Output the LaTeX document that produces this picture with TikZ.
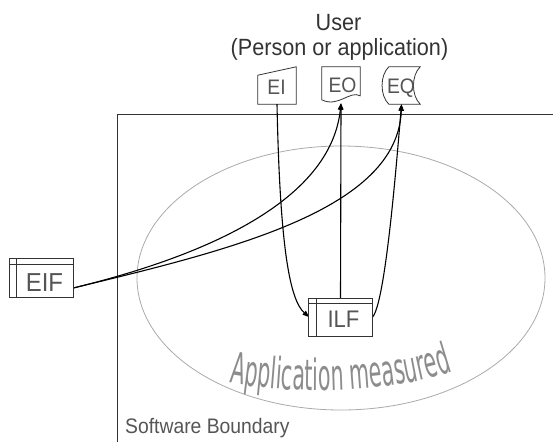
\documentclass[tikz,border=0pt]{standalone}
\usepackage{fontspec}
\setmainfont{Liberation Sans}[FakeStretch=0.92]
\newfontfamily\appfont[FakeStretch=0.48]{DejaVu Sans}
\usetikzlibrary{arrows.meta,calc,decorations.text,shapes.geometric}
\definecolor{txtgray}{HTML}{555555}
\definecolor{linegray}{HTML}{333333}
\definecolor{ellgray}{HTML}{AAAAAA}
\definecolor{appgray}{HTML}{8C8C8C}
\tikzset{
  boxshape/.style={draw=none,inner sep=0pt,minimum width=#1},
  outline/.style={draw=linegray,line width=0.8pt,fill=white},
  conn/.style={draw=black,line width=1.1pt,-{Triangle[length=6.5pt,width=5pt]}},
  lbl/.style={inner sep=0pt,anchor=base,text=txtgray,font=\fontsize{21}{23}\selectfont},
  ilflbl/.style={inner sep=0pt,anchor=base,text=txtgray,font=\fontsize{24}{26}\selectfont},
  eiflbl/.style={inner sep=0pt,anchor=base,text=txtgray,font=\fontsize{26}{28}\selectfont},
  toplbl/.style={inner sep=0pt,anchor=base,text=linegray,font=\fontsize{23.5}{25}\selectfont},
}
\begin{document}
\begin{tikzpicture}[x=1pt,y=-1pt]
\useasboundingbox (0,0) rectangle (553,442);
% boundary
\coordinate (bR) at (553,114);
\coordinate (bC) at (117,114);
\coordinate (bB) at (117,442);
\draw[linegray,line width=0.8pt] (bR) -- (bC) -- (bB);
% ellipse
\node[draw=ellgray,line width=0.8pt,ellipse,minimum width=408pt,minimum height=264pt,inner sep=0pt] (app) at (341,278) {};
% application measured text
\path[decorate,decoration={text along path,text align=center,text color=appgray,
  text={|\appfont\fontsize{43}{43}\selectfont|Application measured}}]
  (230,383) .. controls (290,394) and (385,394) .. (452,372);
% user text
\node[toplbl] (user) at (338.5,30) {User};
\node[toplbl] (user2) at (339.5,55) {(Person or application)};
% shapes
\node[boxshape=38pt,minimum height=37pt] (EI) at (277,85.5) {};
\draw[outline] ($(EI.south west)+(0,-29)$) -- (EI.north east) -- (EI.south east) -- (EI.south west) -- cycle;
\node[lbl] (EIt) at (276.5,94) {EI};
\node[boxshape=38pt,minimum height=36pt] (EO) at (341,85) {};
\draw[outline] (EO.north west) -- (EO.north east) -- ($(EO.north east)+(0,29)$)
  .. controls (350,90) and (338,108) .. ($(EO.north west)+(0,33)$) -- cycle;
\node[lbl] (EOt) at (342.5,92) {EO};
\node[boxshape=37pt,minimum height=37pt] (EQ) at (401.5,85.5) {};
\draw[outline] ($(EQ.north west)+(6,0)$) -- (EQ.north east)
  .. controls ($(EQ.east)+(-9,-10)$) and ($(EQ.east)+(-9,10)$) .. (EQ.south east)
  -- ($(EQ.south west)+(6,0)$)
  .. controls ($(EQ.west)+(-3,10)$) and ($(EQ.west)+(-3,-10)$) .. cycle;
\node[lbl] (EQt) at (401,93) {EQ};
% connectors
\draw[conn] (EI.south) .. controls (280,250) and (290,300) .. (309,317);
\node[boxshape=63pt,minimum height=38pt] (ILF) at (340.5,317.5) {};
\draw[conn] (ILF.north) -- (EO.south);
\draw[conn] (ILF.east) .. controls (385,305) and (396,170) .. (EQ.south);
\node[boxshape=63pt,minimum height=38pt] (EIF) at (41.5,278) {};
\draw[conn] ($(EIF.east)+(0,10)$) .. controls (180,262) and (330,210) .. (EO.south);
\draw[conn] ($(EIF.east)+(0,10)$) .. controls (230,250) and (398,210) .. (EQ.south);
% ILF box
\draw[outline] (ILF.north west) rectangle (ILF.south east);
\draw[linegray,line width=0.8pt] ($(ILF.north west)+(7.5,0)$) -- ($(ILF.south west)+(7.5,0)$);
\draw[linegray,line width=0.8pt] ($(ILF.north west)+(0,5)$) -- ($(ILF.north east)+(0,5)$);
\node[ilflbl] (ILFt) at (343.5,327) {ILF};
% EIF box
\draw[outline] (EIF.north west) rectangle (EIF.south east);
\draw[linegray,line width=0.8pt] ($(EIF.north west)+(7,0)$) -- ($(EIF.south west)+(7,0)$);
\draw[linegray,line width=0.8pt] ($(EIF.north west)+(0,5.5)$) -- ($(EIF.north east)+(0,5.5)$);
\node[eiflbl] (EIFt) at (44.5,291) {EIF};
% software boundary
\node[inner sep=0pt,anchor=base west,text=txtgray,font=\fontsize{21}{23}\selectfont] (sb) at (125,433) {Software Boundary};
\end{tikzpicture}
\end{document}
